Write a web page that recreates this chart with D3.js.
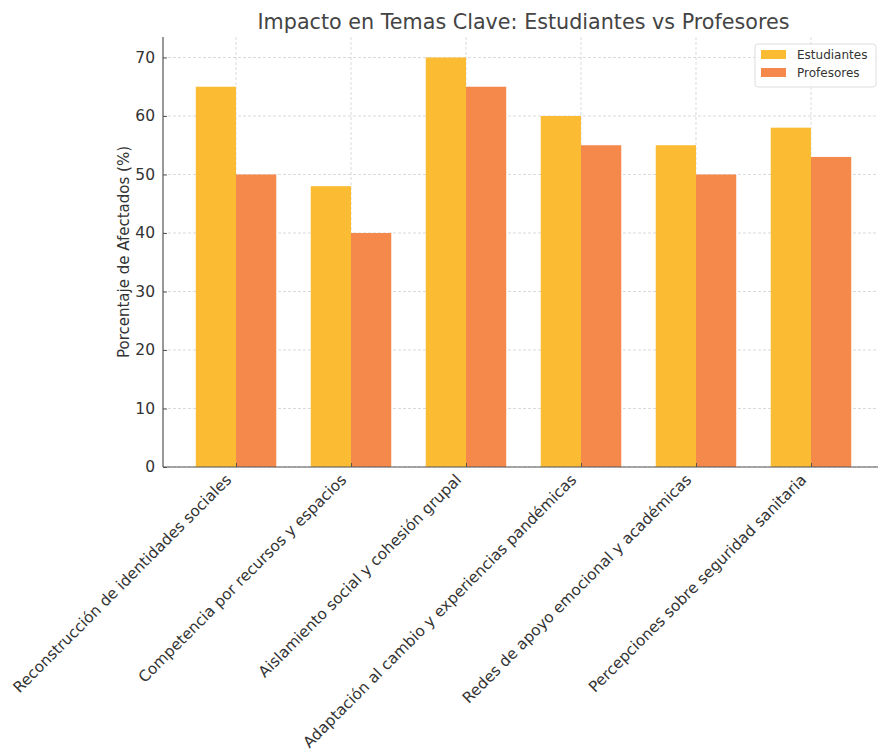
<!DOCTYPE html>
<html>
<head>
<meta charset="utf-8">
<script src="https://cdn.jsdelivr.net/npm/d3@7"></script>
<style>
  body { margin: 0; background: #fff; }
  svg { display: block; font-family: "DejaVu Sans", sans-serif; }
</style>
</head>
<body>
<div id="chart"></div>
<script>
// Topics surveyed and share of each group affected (%)
const categories = [
  "Reconstrucción de identidades sociales",
  "Competencia por recursos y espacios",
  "Aislamiento social y cohesión grupal",
  "Adaptación al cambio y experiencias pandémicas",
  "Redes de apoyo emocional y académicas",
  "Percepciones sobre seguridad sanitaria"
];
const estudiantes = [65, 48, 70, 60, 55, 58];
const profesores = [50, 40, 65, 55, 50, 53];
const seriesNames = ["Estudiantes", "Profesores"];
const yTicks = [0, 10, 20, 30, 40, 50, 60, 70];

const W = 878, H = 752;
const margin = { left: 163, top: 37, right: -6, bottom: 285 };
const plotW = W - margin.left - margin.right;
const plotH = H - margin.top - margin.bottom;
const colors = ["#fbbc33", "#f5894c"];
const barW = 0.35;

const svg = d3.select("#chart").append("svg")
  .attr("width", W).attr("height", H);

// Linear x in category units, with 5% padding around the bars
const lo = -barW, hi = categories.length - 1 + barW;
const pad = (hi - lo) * 0.05;
const x = d3.scaleLinear().domain([lo - pad, hi + pad]).range([0, plotW]);
const yMax = d3.max([...estudiantes, ...profesores]) * 1.05;
const y = d3.scaleLinear().domain([0, yMax]).range([plotH, 0]);

const g = svg.append("g").attr("transform", `translate(${margin.left},${margin.top})`);

// Grid lines
g.append("g").selectAll("line.gy").data(yTicks).join("line")
  .attr("x1", 0).attr("x2", plotW)
  .attr("y1", d => y(d)).attr("y2", d => y(d))
  .attr("stroke", "#d0d0d0").attr("stroke-width", 0.8).attr("stroke-dasharray", "3,2");
g.append("g").selectAll("line.gx").data(categories.map((c, i) => i)).join("line")
  .attr("x1", d => x(d)).attr("x2", d => x(d))
  .attr("y1", 0).attr("y2", plotH)
  .attr("stroke", "#d0d0d0").attr("stroke-width", 0.8).attr("stroke-dasharray", "3,2");

// Bars
const series = [estudiantes, profesores];
series.forEach((vals, s) => {
  g.append("g").selectAll("rect").data(vals).join("rect")
    .attr("x", (d, i) => x(i - barW + s * barW))
    .attr("width", x(barW) - x(0))
    .attr("y", d => y(d))
    .attr("height", d => plotH - y(d))
    .attr("fill", colors[s]);
});

// Y axis
const yAxis = g.append("g").call(
  d3.axisLeft(y).tickValues(yTicks).tickSize(-4).tickPadding(8).tickFormat(d3.format("d")));
yAxis.select(".domain").attr("stroke", "#555").attr("stroke-width", 1.2).attr("d", `M0,0V${plotH}`);
yAxis.selectAll(".tick line").attr("stroke", "#555");
yAxis.selectAll("text").attr("font-size", 15.5).attr("fill", "#333")
  .attr("font-family", "DejaVu Sans, sans-serif");

// X axis
const xAxis = g.append("g").attr("transform", `translate(0,${plotH})`).call(
  d3.axisBottom(x).tickValues(categories.map((c, i) => i)).tickSize(-4).tickFormat(i => categories[i]));
xAxis.select(".domain").attr("stroke", "#555").attr("stroke-width", 1.2).attr("d", `M0,0H${plotW}`);
xAxis.selectAll(".tick line").attr("stroke", "#555");
xAxis.selectAll("text")
  .attr("font-size", 15.3).attr("fill", "#333").attr("font-family", "DejaVu Sans, sans-serif")
  .attr("text-anchor", "end").attr("x", 0).attr("y", 0).attr("dy", "0.35em")
  .attr("transform", "translate(-8,10) rotate(-45)");

// Axis title
svg.append("text")
  .attr("transform", `translate(129,${margin.top + plotH / 2}) rotate(-90)`)
  .attr("text-anchor", "middle").attr("font-size", 15).attr("fill", "#333")
  .text("Porcentaje de Afectados (%)");

// Chart title
svg.append("text")
  .attr("x", margin.left + plotW / 2).attr("y", 29)
  .attr("text-anchor", "middle").attr("font-size", 20.7).attr("fill", "#444")
  .text("Impacto en Temas Clave: Estudiantes vs Profesores");

// Legend
const lg = svg.append("g").attr("transform", "translate(755,44)");
lg.append("rect").attr("width", 121).attr("height", 43).attr("rx", 3)
  .attr("fill", "#fff").attr("fill-opacity", 0.8).attr("stroke", "#ddd");
seriesNames.forEach((n, i) => {
  lg.append("rect").attr("x", 6).attr("y", 6 + i * 18).attr("width", 25).attr("height", 9)
    .attr("fill", colors[i]);
  lg.append("text").attr("x", 42).attr("y", 15 + i * 18)
    .attr("font-size", 12).attr("fill", "#333").text(n);
});
</script>
</body>
</html>
